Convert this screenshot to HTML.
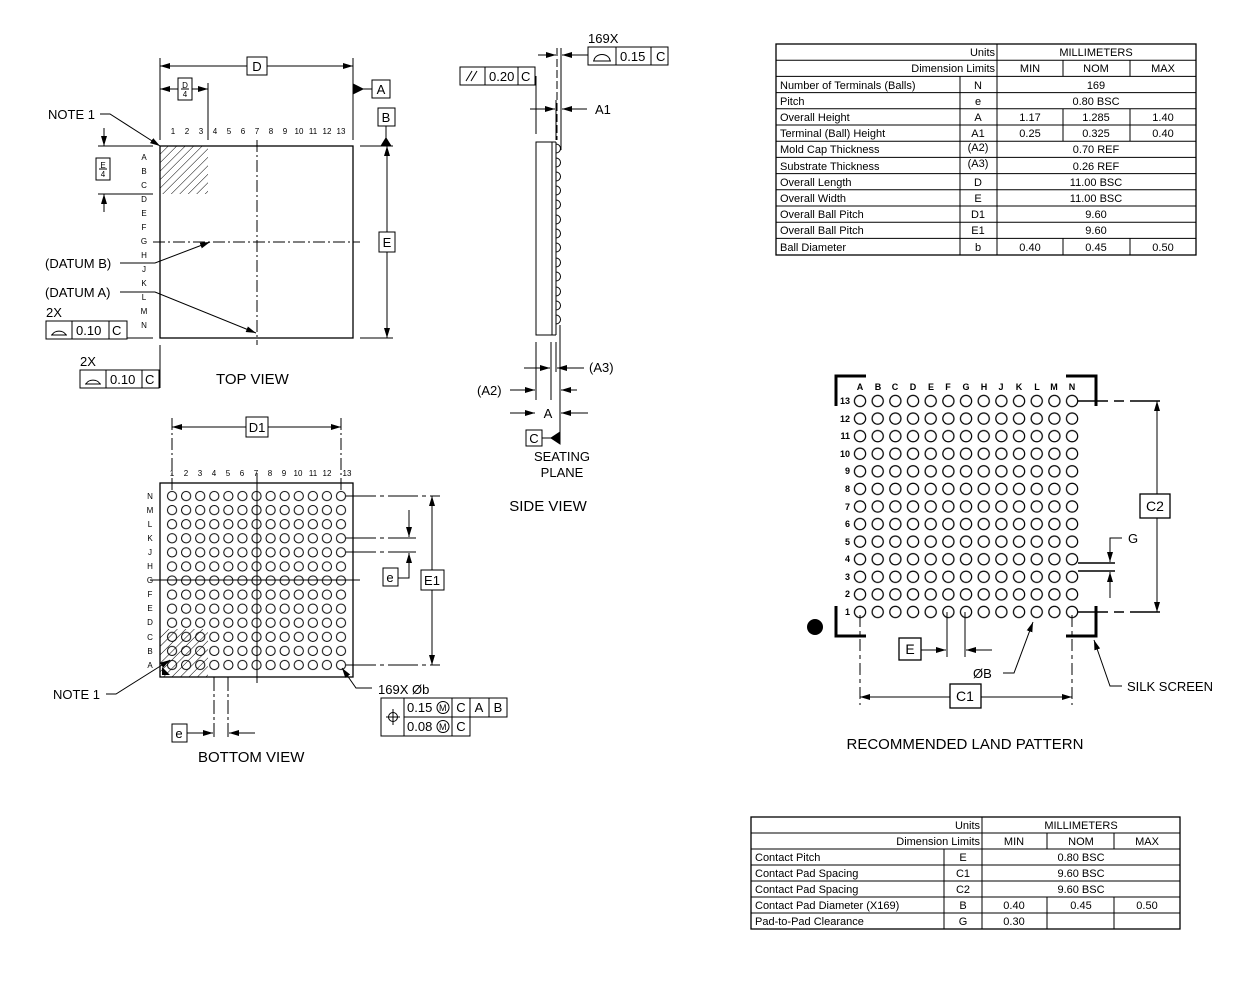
<!DOCTYPE html>
<html><head><meta charset="utf-8"><style>
html,body{margin:0;padding:0;background:#fff}
svg{display:block}
text{font-family:"Liberation Sans",Arial,sans-serif;fill:#000}
</style></head><body>
<svg width="1251" height="990" viewBox="0 0 1251 990" xmlns="http://www.w3.org/2000/svg">
<defs>
<marker id="ar" viewBox="0 0 10 6" refX="10" refY="3" markerWidth="10" markerHeight="6" markerUnits="userSpaceOnUse" orient="auto-start-reverse"><path d="M0,0L10,3L0,6z" fill="#000"/></marker>
<pattern id="hatch" width="6" height="6" patternUnits="userSpaceOnUse" patternTransform="rotate(45)"><line x1="0" y1="0" x2="0" y2="6" stroke="#000" stroke-width="1"/></pattern>
<pattern id="bball" x="165" y="489" width="14.08" height="14.08" patternUnits="userSpaceOnUse"><circle cx="7.04" cy="7.04" r="4.6" fill="none" stroke="#000" stroke-width="1"/></pattern>
<pattern id="lball" x="851.2" y="392.2" width="17.67" height="17.58" patternUnits="userSpaceOnUse"><circle cx="8.83" cy="8.79" r="5.6" fill="none" stroke="#000" stroke-width="1.2"/></pattern>
</defs>
<g stroke="#000" fill="none" stroke-width="1">
<!-- TOP VIEW -->
<rect x="160" y="146" width="193" height="192" stroke-width="1.3"/>
<rect x="160" y="146" width="48" height="48" fill="url(#hatch)" stroke="none"/>
<line x1="257" y1="140" x2="257" y2="345" stroke-dasharray="12,3,2,3"/>
<line x1="153" y1="242" x2="360" y2="242" stroke-dasharray="12,3,2,3"/>
<line x1="160" y1="58" x2="160" y2="140"/><line x1="353" y1="58" x2="353" y2="140"/>
<line x1="160" y1="66" x2="247" y2="66" marker-start="url(#ar)"/><line x1="267" y1="66" x2="353" y2="66" marker-end="url(#ar)"/>
<line x1="208" y1="83" x2="208" y2="140"/>
<line x1="160" y1="89" x2="178" y2="89" marker-start="url(#ar)"/><line x1="192" y1="89" x2="208" y2="89" marker-end="url(#ar)"/>
<path d="M353,84L363,89L353,94z" fill="#000"/><line x1="363" y1="89" x2="372" y2="89"/>
<line x1="386" y1="126" x2="386" y2="140"/><path d="M381,146L386,138L391,146z" fill="#000"/>
<line x1="360" y1="146" x2="393" y2="146"/><line x1="360" y1="338" x2="393" y2="338"/>
<line x1="387" y1="146" x2="387" y2="232" marker-start="url(#ar)"/><line x1="387" y1="252" x2="387" y2="338" marker-end="url(#ar)"/>
<line x1="98" y1="146" x2="153" y2="146"/><line x1="98" y1="194" x2="153" y2="194"/>
<line x1="104" y1="128" x2="104" y2="146" marker-end="url(#ar)"/><line x1="104" y1="212" x2="104" y2="194" marker-end="url(#ar)"/>
<polyline points="100,114 110,114 160,146" marker-end="url(#ar)"/>
<polyline points="120,263 155,263 210,242" marker-end="url(#ar)"/>
<polyline points="120,292 155,292 256,333" marker-end="url(#ar)"/>
<line x1="127" y1="338" x2="153" y2="338"/>
<line x1="160" y1="345" x2="160" y2="388"/>
<rect x="46" y="321" width="81" height="18"/><line x1="72" y1="321" x2="72" y2="339"/><line x1="109" y1="321" x2="109" y2="339"/>
<rect x="80" y="370" width="79" height="18"/><line x1="106" y1="370" x2="106" y2="388"/><line x1="142" y1="370" x2="142" y2="388"/>
<path d="M51,335h16M52,335a7.5,6 0 0 1 14,0"/>
<path d="M85,384h16M86,384a7.5,6 0 0 1 14,0"/>
<rect x="247" y="57" width="20" height="18" fill="#fff"/>
<rect x="178" y="78" width="14" height="22" fill="#fff"/><line x1="181" y1="89" x2="189" y2="89"/>
<rect x="372" y="80" width="18" height="18"/>
<rect x="378" y="108" width="17" height="18"/>
<rect x="379" y="232" width="16" height="20" fill="#fff"/>
<rect x="96" y="158" width="14" height="22"/><line x1="99" y1="169" x2="107" y2="169"/>

<!-- BOTTOM VIEW -->
<rect x="160" y="483" width="193" height="194" stroke-width="1.3"/>
<rect x="160" y="629" width="48" height="48" fill="url(#hatch)" stroke="none"/>
<path d="M162,675v-8l8,8z" fill="#000" stroke="none"/>
<rect x="165" y="489" width="183" height="183" fill="url(#bball)" stroke="none"/>
<line x1="257" y1="473" x2="257" y2="683"/>
<line x1="150" y1="580" x2="360" y2="580"/>
<line x1="172" y1="418" x2="172" y2="490" stroke-dasharray="12,3,2,3"/><line x1="341" y1="418" x2="341" y2="490" stroke-dasharray="12,3,2,3"/>
<line x1="172" y1="427" x2="246" y2="427" marker-start="url(#ar)"/><line x1="268" y1="427" x2="341" y2="427" marker-end="url(#ar)"/>
<line x1="346" y1="496" x2="440" y2="496" stroke-dasharray="30,4,4,4"/><line x1="346" y1="665" x2="440" y2="665" stroke-dasharray="30,4,4,4"/>
<line x1="346" y1="538" x2="416" y2="538" stroke-dasharray="30,4,4,4"/><line x1="346" y1="552" x2="416" y2="552" stroke-dasharray="30,4,4,4"/>
<line x1="432" y1="496" x2="432" y2="570" marker-start="url(#ar)"/><line x1="432" y1="590" x2="432" y2="665" marker-end="url(#ar)"/>
<line x1="409" y1="510" x2="409" y2="537" marker-end="url(#ar)"/>
<polyline points="398,578 409,578 409,553" marker-end="url(#ar)"/>
<line x1="214" y1="677" x2="214" y2="740" stroke-dasharray="14,3,3,3"/><line x1="228" y1="677" x2="228" y2="740" stroke-dasharray="14,3,3,3"/>
<line x1="187" y1="733" x2="213" y2="733" marker-end="url(#ar)"/><line x1="255" y1="733" x2="229" y2="733" marker-end="url(#ar)"/>
<polyline points="106,694 116,694 170,660" marker-end="url(#ar)"/>
<polyline points="372,688 356,688 342,668" marker-end="url(#ar)"/>
<rect x="246" y="417" width="22" height="20" fill="#fff"/>
<rect x="421" y="570" width="23" height="20" fill="#fff"/>
<rect x="383" y="568" width="15" height="18" fill="#fff"/>
<rect x="172" y="724" width="15" height="18" fill="#fff"/>
<rect x="381" y="698" width="89" height="38" fill="#fff"/>
<line x1="404" y1="698" x2="404" y2="736"/><line x1="404" y1="717" x2="507" y2="717"/>
<line x1="452" y1="698" x2="452" y2="736"/><line x1="470" y1="698" x2="470" y2="717"/>
<path d="M470,698h37v19h-18v-19"/>
<circle cx="393" cy="717" r="4.5"/><line x1="386" y1="717" x2="400" y2="717"/><line x1="393" y1="709" x2="393" y2="725"/>
<circle cx="443" cy="707.5" r="6"/><circle cx="443" cy="726.5" r="6"/>

<!-- SIDE VIEW -->
<rect x="536" y="142" width="16" height="193"/>
<line x1="552" y1="142" x2="556" y2="142"/><line x1="556" y1="142" x2="556" y2="335"/><line x1="552" y1="335" x2="556" y2="335"/>
<path d="M556,144a4.5,4.5 0 0 1 0,9M556,158a4.5,4.5 0 0 1 0,9M556,172a4.5,4.5 0 0 1 0,9M556,186a4.5,4.5 0 0 1 0,9M556,200a4.5,4.5 0 0 1 0,9M556,215a4.5,4.5 0 0 1 0,9M556,229a4.5,4.5 0 0 1 0,9M556,243a4.5,4.5 0 0 1 0,9M556,258a4.5,4.5 0 0 1 0,9M556,272a4.5,4.5 0 0 1 0,9M556,287a4.5,4.5 0 0 1 0,9M556,301a4.5,4.5 0 0 1 0,9M556,315a4.5,4.5 0 0 1 0,9"/>
<line x1="560" y1="325" x2="560" y2="442"/>
<line x1="561" y1="48" x2="561" y2="150"/>
<line x1="557" y1="48" x2="557" y2="140" stroke-dasharray="8,3"/>
<line x1="556" y1="100" x2="556" y2="140"/>
<line x1="536" y1="76" x2="536" y2="134"/>
<line x1="538" y1="55" x2="556" y2="55" marker-end="url(#ar)"/><line x1="588" y1="55" x2="562" y2="55" marker-end="url(#ar)"/>
<line x1="530" y1="109" x2="555" y2="109" marker-end="url(#ar)"/><line x1="587" y1="109" x2="562" y2="109" marker-end="url(#ar)"/>
<line x1="536" y1="342" x2="536" y2="400"/><line x1="551" y1="342" x2="551" y2="400"/><line x1="556" y1="342" x2="556" y2="372"/>
<line x1="524" y1="368" x2="550" y2="368" marker-end="url(#ar)"/><line x1="584" y1="368" x2="557" y2="368" marker-end="url(#ar)"/>
<line x1="510" y1="390" x2="535" y2="390" marker-end="url(#ar)"/><line x1="577" y1="390" x2="561" y2="390" marker-end="url(#ar)"/>
<line x1="510" y1="413" x2="535" y2="413" marker-end="url(#ar)"/><line x1="588" y1="413" x2="561" y2="413" marker-end="url(#ar)"/>
<line x1="542" y1="438" x2="552" y2="438"/><path d="M560,432L551,438L560,444z" fill="#000"/>
<rect x="526" y="430" width="16" height="16"/>
<rect x="588" y="47" width="80" height="18"/><line x1="616" y1="47" x2="616" y2="65"/><line x1="651" y1="47" x2="651" y2="65"/>
<path d="M593,61h18M594,61a8,6.5 0 0 1 16,0"/>
<rect x="460" y="67" width="75" height="18"/><line x1="485" y1="67" x2="485" y2="85"/><line x1="518" y1="67" x2="518" y2="85"/>
<line x1="466" y1="81" x2="472" y2="71"/><line x1="471" y1="81" x2="477" y2="71"/>

<!-- LAND PATTERN -->
<rect x="851.2" y="392.2" width="229.7" height="228.6" fill="url(#lball)" stroke="none"/>
<g stroke-width="3">
<polyline points="836,406 836,376 866,376"/><polyline points="1066,376 1096,376 1096,406"/>
<polyline points="836,606 836,636 866,636"/><polyline points="1066,636 1096,636 1096,606"/>
</g>
<circle cx="815" cy="627" r="8" fill="#000" stroke="none"/>
<line x1="1078" y1="401" x2="1163" y2="401" stroke-width="1.5" stroke-dasharray="30,6,10,6"/>
<line x1="1078" y1="612" x2="1163" y2="612" stroke-width="1.5" stroke-dasharray="30,6,10,6"/>
<line x1="1157" y1="401" x2="1157" y2="494" marker-start="url(#ar)"/><line x1="1157" y1="518" x2="1157" y2="612" marker-end="url(#ar)"/>
<line x1="1078" y1="563" x2="1115" y2="563" stroke-width="1.5"/><line x1="1078" y1="571" x2="1115" y2="571" stroke-width="1.5"/>
<polyline points="1122,538 1110,538 1110,562" marker-end="url(#ar)"/>
<line x1="1110" y1="598" x2="1110" y2="572" marker-end="url(#ar)"/>
<line x1="860" y1="615" x2="860" y2="705" stroke-dasharray="12,4,4,4"/><line x1="1072" y1="615" x2="1072" y2="705" stroke-dasharray="12,4,4,4"/>
<line x1="860" y1="697" x2="950" y2="697" marker-start="url(#ar)"/><line x1="981" y1="697" x2="1072" y2="697" marker-end="url(#ar)"/>
<line x1="947" y1="612" x2="947" y2="657"/><line x1="965" y1="612" x2="965" y2="657"/>
<line x1="921" y1="650" x2="946" y2="650" marker-end="url(#ar)"/><line x1="992" y1="650" x2="966" y2="650" marker-end="url(#ar)"/>
<polyline points="1003,673 1014,673 1033,622" marker-end="url(#ar)"/>
<polyline points="1122,686 1110,686 1094,640" marker-end="url(#ar)"/>
<rect x="1140" y="494" width="30" height="24" fill="#fff" stroke-width="1.3"/>
<rect x="950" y="684" width="31" height="24" fill="#fff" stroke-width="1.3"/>
<rect x="899" y="638" width="22" height="22" fill="#fff" stroke-width="1.3"/>

<!-- TABLE 1 -->
<rect x="776" y="44" width="420" height="211" stroke-width="1.3"/>
<path d="M776,60.2H1196M776,76.4H1196M776,92.6H1196M776,108.8H1196M776,125H1196M776,141.2H1196M776,157.4H1196M776,173.6H1196M776,189.8H1196M776,206H1196M776,222.2H1196M776,238.4H1196"/>
<line x1="997" y1="44" x2="997" y2="255"/><line x1="960" y1="76.4" x2="960" y2="255"/>
<path d="M1063,60.2V76.4M1130,60.2V76.4M1063,108.8V141.2M1130,108.8V141.2M1063,238.4V255M1130,238.4V255"/>
<!-- TABLE 2 -->
<rect x="751" y="817" width="429" height="112" stroke-width="1.3"/>
<path d="M751,833H1180M751,849H1180M751,865H1180M751,881H1180M751,897H1180M751,913H1180"/>
<line x1="982" y1="817" x2="982" y2="929"/><line x1="944" y1="849" x2="944" y2="929"/>
<path d="M1047,833V849M1114,833V849M1047,897V929M1114,897V929"/>
</g>

<!-- TEXT -->
<g font-size="8" text-anchor="middle">
<text x="173" y="134">1</text><text x="187" y="134">2</text><text x="201" y="134">3</text><text x="215" y="134">4</text><text x="229" y="134">5</text><text x="243" y="134">6</text><text x="257" y="134">7</text><text x="271" y="134">8</text><text x="285" y="134">9</text><text x="299" y="134">10</text><text x="313" y="134">11</text><text x="327" y="134">12</text><text x="341" y="134">13</text>
<text x="144" y="160">A</text><text x="144" y="174">B</text><text x="144" y="188">C</text><text x="144" y="202">D</text><text x="144" y="216">E</text><text x="144" y="230">F</text><text x="144" y="244">G</text><text x="144" y="258">H</text><text x="144" y="272">J</text><text x="144" y="286">K</text><text x="144" y="300">L</text><text x="144" y="314">M</text><text x="144" y="328">N</text>
<text x="172" y="476">1</text><text x="186" y="476">2</text><text x="200" y="476">3</text><text x="214" y="476">4</text><text x="228" y="476">5</text><text x="242" y="476">6</text><text x="256" y="476">7</text><text x="270" y="476">8</text><text x="284" y="476">9</text><text x="298" y="476">10</text><text x="313" y="476">11</text><text x="327" y="476">12</text><text x="347" y="476">13</text>
<text x="150" y="499">N</text><text x="150" y="513">M</text><text x="150" y="527">L</text><text x="150" y="541">K</text><text x="150" y="555">J</text><text x="150" y="569">H</text><text x="150" y="583">G</text><text x="150" y="597">F</text><text x="150" y="611">E</text><text x="150" y="625">D</text><text x="150" y="640">C</text><text x="150" y="654">B</text><text x="150" y="668">A</text>
</g>
<g font-size="9" font-weight="bold" text-anchor="middle">
<text x="860" y="390">A</text><text x="878" y="390">B</text><text x="895" y="390">C</text><text x="913" y="390">D</text><text x="931" y="390">E</text><text x="948" y="390">F</text><text x="966" y="390">G</text><text x="984" y="390">H</text><text x="1001" y="390">J</text><text x="1019" y="390">K</text><text x="1037" y="390">L</text><text x="1054" y="390">M</text><text x="1072" y="390">N</text>
</g>
<g font-size="9" font-weight="bold" text-anchor="end">
<text x="850" y="404">13</text><text x="850" y="422">12</text><text x="850" y="439">11</text><text x="850" y="457">10</text><text x="850" y="474">9</text><text x="850" y="492">8</text><text x="850" y="510">7</text><text x="850" y="527">6</text><text x="850" y="545">5</text><text x="850" y="562">4</text><text x="850" y="580">3</text><text x="850" y="597">2</text><text x="850" y="615">1</text>
</g>
<g font-size="13">
<text x="257" y="71" text-anchor="middle">D</text>
<text x="185" y="88" font-size="8" text-anchor="middle">D</text><text x="185" y="97" font-size="8" text-anchor="middle">4</text>
<text x="103" y="168" font-size="8" text-anchor="middle">E</text><text x="103" y="177" font-size="8" text-anchor="middle">4</text>
<text x="381" y="94" text-anchor="middle">A</text>
<text x="386" y="122" text-anchor="middle">B</text>
<text x="387" y="247" text-anchor="middle">E</text>
<text x="48" y="119">NOTE 1</text>
<text x="45" y="268">(DATUM B)</text>
<text x="45" y="297">(DATUM A)</text>
<text x="46" y="317">2X</text><text x="76" y="335">0.10</text><text x="112" y="335">C</text>
<text x="80" y="366">2X</text><text x="110" y="384">0.10</text><text x="145" y="384">C</text>
<text x="216" y="384" font-size="15">TOP VIEW</text>
<text x="257" y="432" text-anchor="middle">D1</text>
<text x="432" y="585" text-anchor="middle">E1</text>
<text x="390" y="582" text-anchor="middle">e</text>
<text x="179" y="738" text-anchor="middle">e</text>
<text x="53" y="699">NOTE 1</text>
<text x="378" y="694">169X Øb</text>
<text x="407" y="712">0.15</text><text x="439" y="711" font-size="9">M</text><text x="461" y="712" text-anchor="middle">C</text><text x="479" y="712" text-anchor="middle">A</text><text x="498" y="712" text-anchor="middle">B</text>
<text x="407" y="731">0.08</text><text x="439" y="730" font-size="9">M</text><text x="461" y="731" text-anchor="middle">C</text>
<text x="198" y="762" font-size="15">BOTTOM VIEW</text>
<text x="588" y="43">169X</text><text x="620" y="61">0.15</text><text x="656" y="61">C</text>
<text x="489" y="81">0.20</text><text x="521" y="81">C</text>
<text x="595" y="114">A1</text>
<text x="589" y="372">(A3)</text>
<text x="477" y="395">(A2)</text>
<text x="548" y="418" text-anchor="middle">A</text>
<text x="534" y="443" text-anchor="middle">C</text>
<text x="562" y="461" text-anchor="middle">SEATING</text>
<text x="562" y="477" text-anchor="middle">PLANE</text>
<text x="548" y="511" font-size="15" text-anchor="middle">SIDE VIEW</text>
<text x="1155" y="511" font-size="14" text-anchor="middle">C2</text>
<text x="965" y="701" font-size="14" text-anchor="middle">C1</text>
<text x="910" y="654" font-size="14" text-anchor="middle">E</text>
<text x="1128" y="543">G</text>
<text x="973" y="678">ØB</text>
<text x="1127" y="691">SILK SCREEN</text>
<text x="965" y="749" font-size="15" text-anchor="middle">RECOMMENDED LAND PATTERN</text>
</g>
<g font-size="11">
<text x="995" y="56" text-anchor="end">Units</text><text x="1096" y="56" text-anchor="middle">MILLIMETERS</text>
<text x="995" y="72" text-anchor="end">Dimension Limits</text><text x="1030" y="72" text-anchor="middle">MIN</text><text x="1096" y="72" text-anchor="middle">NOM</text><text x="1163" y="72" text-anchor="middle">MAX</text>
<text x="780" y="89">Number of Terminals (Balls)</text><text x="978" y="89" text-anchor="middle">N</text><text x="1096" y="89" text-anchor="middle">169</text>
<text x="780" y="105">Pitch</text><text x="978" y="105" text-anchor="middle">e</text><text x="1096" y="105" text-anchor="middle">0.80 BSC</text>
<text x="780" y="121">Overall Height</text><text x="978" y="121" text-anchor="middle">A</text><text x="1030" y="121" text-anchor="middle">1.17</text><text x="1096" y="121" text-anchor="middle">1.285</text><text x="1163" y="121" text-anchor="middle">1.40</text>
<text x="780" y="137">Terminal (Ball) Height</text><text x="978" y="137" text-anchor="middle">A1</text><text x="1030" y="137" text-anchor="middle">0.25</text><text x="1096" y="137" text-anchor="middle">0.325</text><text x="1163" y="137" text-anchor="middle">0.40</text>
<text x="780" y="153">Mold Cap Thickness</text><text x="978" y="151" text-anchor="middle">(A2)</text><text x="1096" y="153" text-anchor="middle">0.70 REF</text>
<text x="780" y="170">Substrate Thickness</text><text x="978" y="167" text-anchor="middle">(A3)</text><text x="1096" y="170" text-anchor="middle">0.26 REF</text>
<text x="780" y="186">Overall Length</text><text x="978" y="186" text-anchor="middle">D</text><text x="1096" y="186" text-anchor="middle">11.00 BSC</text>
<text x="780" y="202">Overall Width</text><text x="978" y="202" text-anchor="middle">E</text><text x="1096" y="202" text-anchor="middle">11.00 BSC</text>
<text x="780" y="218">Overall Ball Pitch</text><text x="978" y="218" text-anchor="middle">D1</text><text x="1096" y="218" text-anchor="middle">9.60</text>
<text x="780" y="234">Overall Ball Pitch</text><text x="978" y="234" text-anchor="middle">E1</text><text x="1096" y="234" text-anchor="middle">9.60</text>
<text x="780" y="251">Ball Diameter</text><text x="978" y="251" text-anchor="middle">b</text><text x="1030" y="251" text-anchor="middle">0.40</text><text x="1096" y="251" text-anchor="middle">0.45</text><text x="1163" y="251" text-anchor="middle">0.50</text>

<text x="980" y="829" text-anchor="end">Units</text><text x="1081" y="829" text-anchor="middle">MILLIMETERS</text>
<text x="980" y="845" text-anchor="end">Dimension Limits</text><text x="1014" y="845" text-anchor="middle">MIN</text><text x="1081" y="845" text-anchor="middle">NOM</text><text x="1147" y="845" text-anchor="middle">MAX</text>
<text x="755" y="861">Contact Pitch</text><text x="963" y="861" text-anchor="middle">E</text><text x="1081" y="861" text-anchor="middle">0.80 BSC</text>
<text x="755" y="877">Contact Pad Spacing</text><text x="963" y="877" text-anchor="middle">C1</text><text x="1081" y="877" text-anchor="middle">9.60 BSC</text>
<text x="755" y="893">Contact Pad Spacing</text><text x="963" y="893" text-anchor="middle">C2</text><text x="1081" y="893" text-anchor="middle">9.60 BSC</text>
<text x="755" y="909">Contact Pad Diameter (X169)</text><text x="963" y="909" text-anchor="middle">B</text><text x="1014" y="909" text-anchor="middle">0.40</text><text x="1081" y="909" text-anchor="middle">0.45</text><text x="1147" y="909" text-anchor="middle">0.50</text>
<text x="755" y="925">Pad-to-Pad Clearance</text><text x="963" y="925" text-anchor="middle">G</text><text x="1014" y="925" text-anchor="middle">0.30</text>
</g>
</svg>
</body></html>
